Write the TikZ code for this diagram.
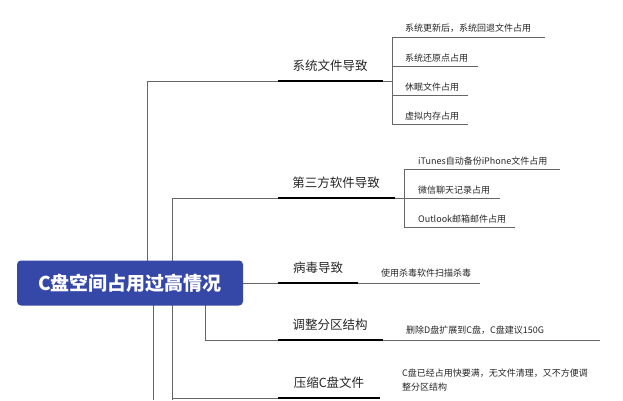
\documentclass[tikz,border=0pt]{standalone}
\usepackage{fontspec}
\setmainfont{Noto Sans CJK SC}
\begin{document}
\begin{tikzpicture}[x=1pt,y=-1pt,
  gl/.style={draw=gray!80!black,line width=0.9pt},
  thk/.style={draw=black,line width=2.6pt},
  sub/.style={anchor=south west,inner sep=1pt,font=\fontsize{9}{11}\selectfont,text=black!85},
  top/.style={anchor=south,inner sep=2pt,font=\fontsize{12.5}{14}\selectfont,text=black!85}]
\useasboundingbox (0,0) rectangle (623,400);
\definecolor{rootblue}{HTML}{3548A8}
% connectors from root
\draw[gl] (147,283) |- (278,81);
\draw[gl] (172,283) -- (172,400);
\draw[gl] (172,283) |- (278,198);
\draw[gl] (153,283) -- (153,400);
\draw[gl] (205,300) |- (278,340);
\draw[gl] (172,398) -- (278,398);
\draw[gl] (243,283) -- (278,283);
\node[fill=rootblue,rounded corners=4pt,minimum width=226pt,minimum height=45pt,text=white,font=\fontsize{19}{22}\selectfont\bfseries] (root) at (130,283) {C盘空间占用过高情况};
% topics
\coordinate (t1a) at (278,81); \coordinate (t1b) at (383,81);
\draw[thk] (t1a) -- (t1b);
\node[top] (t1) at (330,74) {系统文件导致};
\coordinate (t2a) at (278,198); \coordinate (t2b) at (395,198);
\draw[thk] (t2a) -- (t2b);
\node[top] (t2) at (336,191) {第三方软件导致};
\coordinate (t3a) at (278,283); \coordinate (t3b) at (358,283);
\draw[thk] (t3a) -- (t3b);
\node[top] (t3) at (318,276) {病毒导致};
\coordinate (t4a) at (278,340); \coordinate (t4b) at (383,340);
\draw[thk] (t4a) -- (t4b);
\node[top] (t4) at (330,333) {调整分区结构};
\coordinate (t5a) at (278,398); \coordinate (t5b) at (380,398);
\draw[thk] (t5a) -- (t5b);
\node[top] (t5) at (329,391) {压缩C盘文件};
% sub of topic 1
\draw[gl,line width=0.7pt] (t1b) -- (392,81);
\draw[gl,line width=0.7pt] (392,37) -- (392,124);
\draw[gl,line width=0.7pt] (392,37) -- (545,37);
\draw[gl,line width=0.7pt] (392,66) -- (478,66);
\draw[gl,line width=0.7pt] (392,95) -- (468,95);
\draw[gl,line width=0.7pt] (392,124) -- (468,124);
\node[sub] (s11) at (404,34) {系统更新后，系统回退文件占用};
\node[sub] (s12) at (404,63) {系统还原点占用};
\node[sub] (s13) at (404,92) {休眠文件占用};
\node[sub] (s14) at (404,121) {虚拟内存占用};
% sub of topic 2
\draw[gl,line width=0.7pt] (t2b) -- (404,198);
\draw[gl,line width=0.7pt] (404,169) -- (404,227);
\draw[gl,line width=0.7pt] (404,169) -- (560,169);
\draw[gl,line width=0.7pt] (404,198) -- (500,198);
\draw[gl,line width=0.7pt] (404,227) -- (515,227);
\node[sub] (s21) at (417,166) {iTunes自动备份iPhone文件占用};
\node[sub] (s22) at (417,195) {微信聊天记录占用};
\node[sub] (s23) at (417,224) {Outlook邮箱邮件占用};
% sub of topic 3
\draw[gl,line width=0.7pt] (t3b) -- (480,283);
\node[sub] (s31) at (380,278) {使用杀毒软件扫描杀毒};
% sub of topic 4
\draw[gl,line width=0.7pt] (t4b) -- (600,340);
\node[sub] (s41) at (405,336) {删除D盘扩展到C盘，C盘建议150G};
% sub of topic 5
\node[sub,anchor=north west,align=left,font=\fontsize{9}{14}\selectfont] (s51) at (401,368) {C盘已经占用快要满，无文件清理，又不方便调\\整分区结构};
\end{tikzpicture}
\end{document}
